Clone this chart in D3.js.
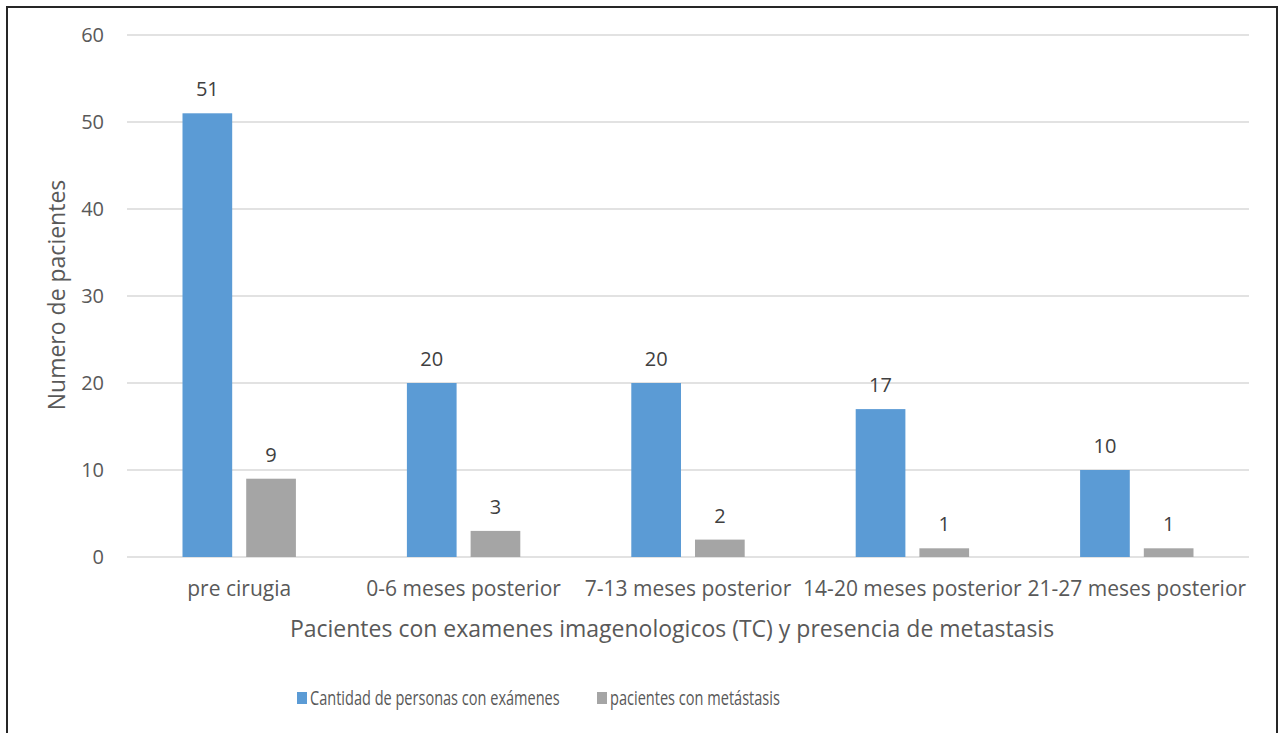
<!DOCTYPE html>
<html>
<head>
<meta charset="utf-8">
<script src="https://cdn.jsdelivr.net/npm/d3@7"></script>
<style>
  body { margin: 0; background: #fff; }
  svg { display: block; font-family: "Open Sans", sans-serif; }
</style>
</head>
<body>
<div class="chart"></div>
<script>
var categories = ["pre cirugia", "0-6 meses posterior", "7-13 meses posterior", "14-20 meses posterior", "21-27 meses posterior"];
var seriesNames = ["Cantidad de personas con exámenes", "pacientes con metástasis"];
var examenes = [51, 20, 20, 17, 10];
var metastasis = [9, 3, 2, 1, 1];
var yTicks = [0, 10, 20, 30, 40, 50, 60];
var colors = ["#5B9BD5", "#A5A5A5"];

var width = 1282, height = 733;
var plot = {left: 127, right: 1249, top: 35, bottom: 557};
var fontFamily = '"Open Sans", sans-serif';

var svg = d3.select('div.chart').append('svg')
    .attr('width', width)
    .attr('height', height);

// outer frame
svg.append('path')
  .attr('d', 'M7,740 L7,7 L1277,7 L1277,740')
  .attr('fill', 'none')
  .attr('stroke', '#262626')
  .attr('stroke-width', 2);

var yScale = d3.scaleLinear()
    .domain([0, 60])
    .range([plot.bottom, plot.top]);

var xScale = d3.scaleBand()
    .domain(categories)
    .range([plot.left, plot.right]);

var inner = d3.scaleBand()
    .domain([0, 1])
    .range([55.5, xScale.bandwidth() - 55.5])
    .paddingInner(0.22);

// gridlines
svg.append('g').selectAll('line')
  .data(yTicks)
  .enter().append('line')
  .attr('x1', plot.left)
  .attr('x2', plot.right)
  .attr('y1', d => yScale(d))
  .attr('y2', d => yScale(d))
  .attr('stroke', '#D9D9D9')
  .attr('stroke-width', 1.5);

var yAxis = d3.axisLeft(yScale).tickValues(yTicks).tickSize(0).tickPadding(23);
var yAxis_g = svg.append('g')
    .attr('transform', 'translate(' + plot.left + ',0)')
    .call(yAxis);
yAxis_g.select('.domain').remove();
yAxis_g.selectAll('text')
  .attr('font-size', 20)
  .attr('font-family', fontFamily)
  .attr('fill', '#595959');

var xAxis = d3.axisBottom(xScale).tickSize(0).tickPadding(0);
var xAxis_g = svg.append('g')
    .attr('transform', 'translate(0,' + plot.bottom + ')')
    .call(xAxis);
xAxis_g.select('.domain').remove();
xAxis_g.selectAll('text')
  .attr('font-size', 21)
  .attr('font-family', fontFamily)
  .attr('fill', '#595959')
  .attr('dy', null)
  .attr('y', 39);

var rows = categories.map(function (c, i) {
  return {cat: c, values: [examenes[i], metastasis[i]]};
});

var groups = svg.selectAll('g.cat')
  .data(rows)
  .enter().append('g')
  .attr('class', 'cat')
  .attr('transform', d => 'translate(' + xScale(d.cat) + ',0)');

groups.selectAll('rect')
  .data(d => d.values)
  .enter().append('rect')
  .attr('x', (d, i) => inner(i))
  .attr('width', inner.bandwidth())
  .attr('y', d => yScale(d))
  .attr('height', d => plot.bottom - yScale(d))
  .attr('fill', (d, i) => colors[i]);

groups.selectAll('text.label')
  .data(d => d.values)
  .enter().append('text')
  .attr('class', 'label')
  .attr('x', (d, i) => inner(i) + inner.bandwidth() / 2)
  .attr('y', d => yScale(d) - 17)
  .attr('text-anchor', 'middle')
  .attr('font-size', 20)
  .attr('fill', '#404040')
  .text(d => d);

// axis titles
svg.append('text')
  .attr('x', 672)
  .attr('y', 637)
  .attr('text-anchor', 'middle')
  .attr('font-size', 23)
  .attr('fill', '#595959')
  .text('Pacientes con examenes imagenologicos (TC) y presencia de metastasis');

svg.append('text')
  .attr('transform', 'translate(65,295) rotate(-90)')
  .attr('text-anchor', 'middle')
  .attr('font-size', 23)
  .attr('fill', '#595959')
  .text('Numero de pacientes');

// legend (text is narrow in the original, so squeeze it horizontally)
var legendX = [297, 597];
var legendLen = [250, 170];
var legend = svg.selectAll('g.legend')
  .data(seriesNames)
  .enter().append('g')
  .attr('class', 'legend')
  .attr('transform', (d, i) => 'translate(' + legendX[i] + ',698)');
legend.append('rect')
  .attr('x', 0).attr('y', -6)
  .attr('width', 10).attr('height', 12)
  .attr('fill', (d, i) => colors[i]);
legend.append('text')
  .attr('font-size', 20)
  .attr('fill', '#595959')
  .text(d => d)
  .attr('transform', function (d, i) {
    var k = legendLen[i] / this.getComputedTextLength();
    return 'translate(13,7) scale(' + k + ',1)';
  });
</script>
</body>
</html>
